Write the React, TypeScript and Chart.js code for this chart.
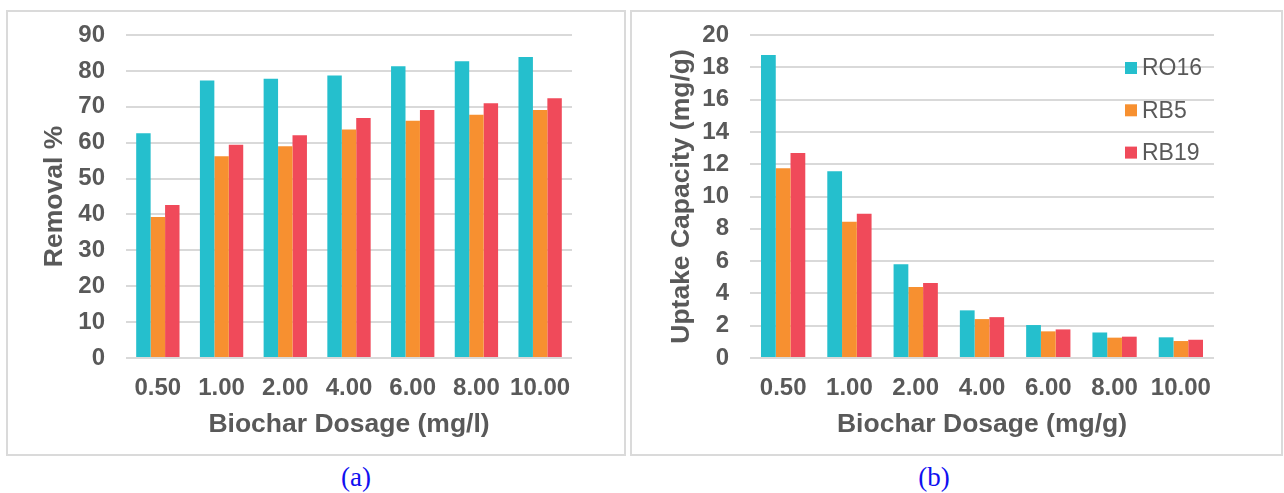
import React, { useEffect, useRef } from "react";
import { Chart, registerables } from "chart.js";

Chart.register(...registerables);

const categories = ["0.50", "1.00", "2.00", "4.00", "6.00", "8.00", "10.00"];
const seriesNames = ["RO16", "RB5", "RB19"];
const seriesColors = ["#25BFCD", "#F79030", "#F04A5A"];

const removalRO16 = [62.6, 77.3, 77.8, 78.7, 81.3, 82.7, 83.9];
const removalRB5 = [39.3, 56.2, 59.0, 63.7, 66.1, 67.8, 69.1];
const removalRB19 = [42.6, 59.4, 62.1, 66.9, 69.1, 71.0, 72.4];

const uptakeRO16 = [18.76, 11.57, 5.81, 2.95, 2.04, 1.58, 1.28];
const uptakeRB5 = [11.75, 8.43, 4.39, 2.41, 1.65, 1.26, 1.05];
const uptakeRB19 = [12.7, 8.93, 4.64, 2.53, 1.77, 1.32, 1.13];

const FONT = "'Liberation Sans', Arial, sans-serif";
const TEXT = "#595959";

const insideLegend = {
  id: "insideLegend",
  afterDraw(chart: any, _args: any, opts: any) {
    if (!opts || !opts.enabled) return;
    const ctx = chart.ctx;
    const area = chart.chartArea;
    ctx.save();
    ctx.font = `23px ${FONT}`;
    ctx.textBaseline = "middle";
    ctx.textAlign = "left";
    chart.data.datasets.forEach((ds: any, i: number) => {
      const cy = area.top + opts.top + i * opts.gap;
      const x = area.right - opts.fromRight;
      ctx.fillStyle = ds.backgroundColor;
      ctx.fillRect(x, cy - 6, 12, 12);
      ctx.fillStyle = TEXT;
      ctx.fillText(ds.label, x + 17, cy + 1);
    });
    ctx.restore();
  },
};

function makeConfig(
  values: number[][],
  yMax: number,
  yStep: number,
  yTitle: string,
  xTitle: string,
  rightPad: number,
  catPct: number,
  legend: boolean,
  yTitlePad: number
): any {
  return {
    type: "bar",
    data: {
      labels: categories,
      datasets: seriesNames.map((name, i) => ({
        label: name,
        data: values[i],
        backgroundColor: seriesColors[i],
        borderWidth: 0,
        categoryPercentage: catPct,
        barPercentage: 1,
      })),
    },
    plugins: [insideLegend],
    options: {
      responsive: false,
      animation: false,
      layout: { padding: { left: 0, top: 24, right: rightPad, bottom: 0 } },
      plugins: {
        legend: { display: false },
        tooltip: { enabled: false },
        insideLegend: { enabled: legend, top: 33, gap: 42.3, fromRight: 89 },
      },
      scales: {
        x: {
          type: "category",
          grid: { display: false, drawTicks: false },
          border: { display: false },
          ticks: {
            color: TEXT,
            font: { family: FONT, size: 24, weight: "bold" },
            padding: 16,
            maxRotation: 0,
            autoSkip: false,
          },
          title: {
            display: true,
            text: xTitle,
            color: TEXT,
            font: { family: FONT, size: 26.5, weight: "bold" },
            padding: { top: 0, bottom: 14 },
          },
          afterFit: (s: any) => {
            s.height = 97;
            s.paddingLeft = 0;
            s.paddingRight = 0;
          },
        },
        y: {
          min: 0,
          max: yMax,
          grid: { color: "#D9D9D9", lineWidth: 2, drawTicks: false },
          border: { display: false },
          ticks: {
            stepSize: yStep,
            autoSkip: false,
            color: TEXT,
            font: { family: FONT, size: 24, weight: "bold" },
            padding: 21,
          },
          title: {
            display: true,
            text: yTitle,
            color: TEXT,
            font: { family: FONT, size: 26.5, weight: "bold" },
            padding: { top: yTitlePad, bottom: 0 },
          },
          afterFit: (s: any) => {
            s.width = 119;
            s.paddingTop = 0;
            s.paddingBottom = 0;
          },
        },
      },
    },
  };
}

function ChartCanvas(props: { config: any; left: number; top: number; width: number; height: number }) {
  const ref = useRef<HTMLCanvasElement | null>(null);
  useEffect(() => {
    if (!ref.current) return;
    const chart = new Chart(ref.current, props.config);
    return () => chart.destroy();
  }, []);
  return (
    <canvas
      ref={ref}
      width={props.width}
      height={props.height}
      style={{ position: "absolute", left: props.left, top: props.top, width: props.width, height: props.height }}
    />
  );
}

export default function App() {
  const cfgA = makeConfig(
    [removalRO16, removalRB5, removalRB19],
    90,
    10,
    "Removal %",
    "Biochar Dosage (mg/l)",
    53,
    0.68,
    false,
    32
  );
  const cfgB = makeConfig(
    [uptakeRO16, uptakeRB5, uptakeRB19],
    20,
    2,
    "Uptake Capacity (mg/g)",
    "Biochar Dosage (mg/g)",
    69,
    0.668,
    true,
    35
  );
  const panel = (left: number, width: number): React.CSSProperties => ({
    position: "absolute",
    left,
    top: 10,
    width,
    height: 446,
    border: "2px solid #DADADA",
    boxSizing: "border-box",
  });
  const label = (cx: number): React.CSSProperties => ({
    position: "absolute",
    left: cx - 40,
    width: 80,
    top: 461,
    textAlign: "center",
    fontFamily: "'Liberation Serif', 'Times New Roman', serif",
    fontSize: 27,
    lineHeight: "32px",
    color: "#1010F0",
  });
  return (
    <div style={{ position: "absolute", left: 0, top: 0, width: 1284, height: 493, background: "#fff", overflow: "hidden" }}>
      <div style={panel(6, 620)} />
      <div style={panel(630, 653)} />
      <ChartCanvas config={cfgA} left={7} top={11} width={618} height={444} />
      <ChartCanvas config={cfgB} left={631} top={11} width={652} height={444} />
      <div style={label(356)}>(a)</div>
      <div style={label(934)}>(b)</div>
    </div>
  );
}
